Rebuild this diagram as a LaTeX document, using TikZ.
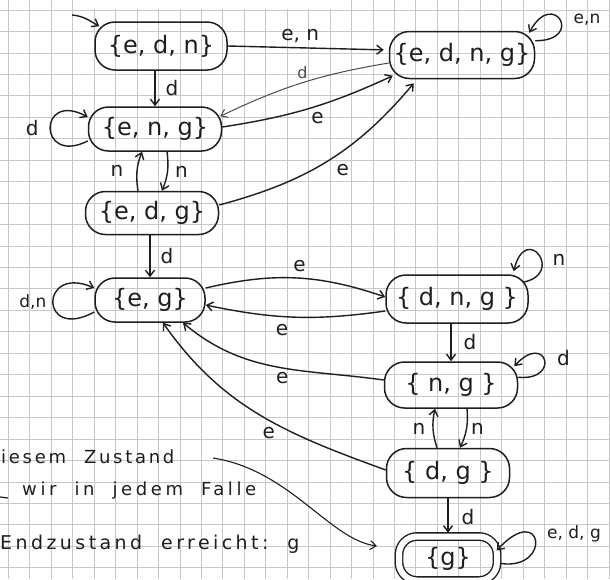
\documentclass[tikz,border=0pt]{standalone}
\usepackage{fontspec}
\setmainfont{DejaVu Sans}
\usetikzlibrary{arrows.meta}
\definecolor{ink}{RGB}{30,30,30}
\definecolor{gridline}{RGB}{200,200,200}

\begin{document}
\begin{tikzpicture}[x=1pt,y=-1pt,
  state/.style={draw=ink, line width=1.5pt, rounded corners=20pt,
    font=\fontsize{24}{26}\selectfont, text=ink, inner sep=0pt},
  final/.style={state, double=white, double distance=6pt, line width=1.4pt, rounded corners=18pt},
  edge/.style={draw=ink, line width=1.4pt, -{Straight Barb[length=6pt,width=9pt]}},
  lbl/.style={font=\fontsize{20}{22}\selectfont, text=ink, inner sep=2pt},
  note/.style={font=\fontsize{18}{20}\selectfont\addfontfeature{LetterSpace=15},
    text=ink, anchor=base west, inner sep=0pt}
]
% paper and squared grid
\useasboundingbox (0,0) rectangle (610,579);
\fill[white] (0,0) rectangle (610,579);
\foreach \i in {0,...,28}
  \draw[gridline, line width=0.8pt] ({8.3+21.45*\i},0) -- ({8.3+21.45*\i},579);
\foreach \i in {0,...,26}
  \draw[gridline, line width=0.8pt] (0,{10+21.45*\i}) -- (610,{10+21.45*\i});
\fill[white] (74,0) rectangle (350,9);

% states
\node[state, minimum width=132pt, minimum height=48pt] (edn)  at (161,46)  {\{e, d, n\}};
\node[state, minimum width=145pt, minimum height=47pt] (edng) at (462,55)  {\{e, d, n, g\}};
\node[state, minimum width=133pt, minimum height=44pt] (eng)  at (155,129) {\{e, n, g\}};
\node[state, minimum width=133pt, minimum height=43pt] (edg)  at (152,213) {\{e, d, g\}};
\node[state, minimum width=110pt, minimum height=44pt] (eg)   at (150,300) {\{e, g\}};
\node[state, minimum width=142pt, minimum height=48pt] (dng)  at (457,299) {\{ d, n, g \}};
\node[state, minimum width=133pt, minimum height=46pt] (ng)   at (451,385) {\{ n, g \}};
\node[state, minimum width=123pt, minimum height=49pt] (dg)   at (448,473) {\{ d, g \}};
\node[final, minimum width=98pt,  minimum height=44pt] (g)    at (448,558.5) {\{g\}};

% start arrow
\coordinate (init) at (72,15);
\draw[edge] (init) to[out=-5, in=150] ([shift={(5pt,-5pt)}]edn.north west);

% top part
\draw[edge, shorten >=5pt] (edn.east) -- node[lbl, pos=.45, above=2pt] {e, n}
  ([yshift=5pt]edng.west);
\draw[edge, line width=1pt, draw=ink!80] ([yshift=-8pt]edng.west) to[bend right=8]
  node[lbl, pos=.5, above=2pt, font=\fontsize{16}{17}\selectfont, text=ink!80] {d}
  ([shift={(-2pt,-10pt)}]eng.north east);
\draw[edge] ([yshift=2pt]eng.east) to[bend right=8]
  node[lbl, pos=.55, below=4pt] {e}
  ([shift={(4pt,3.5pt)}]edng.south west);
\draw[edge] ([yshift=8pt]edg.east) to[out=15, in=230]
  node[lbl, pos=.52, below right=3pt] {e}
  ([shift={(25pt,-4pt)}]edng.south west);
\draw[edge] (edn.south -| eng.north) -- node[lbl, midway, right=8pt] {d} (eng.north);
\draw[edge] ([yshift=-12pt]eng.west) .. controls +(-50pt,-25pt) and +(-50pt,27pt) .. ([yshift=12pt]eng.west)
  node[lbl, pos=.5, left=9pt] {d};
\draw[edge] ([xshift=-14pt]edg.north) to[bend left=15]
  node[lbl, midway, left=11pt] {n} ([xshift=-13pt]eng.south);
\draw[edge] ([xshift=12pt]eng.south) to[bend left=15]
  node[lbl, midway, right=5pt] {n} ([xshift=10pt]edg.north);
\draw[edge] (edg.south -| eg.north) -- node[lbl, midway, right=8pt] {d} (eg.north);
\draw[edge] ([shift={(0pt,-10pt)}]edng.north east) .. controls +(50pt,0pt) and +(24pt,45pt) .. ([shift={(-6pt,-2pt)}]edng.north east)
  node[lbl, pos=.5, right=11pt, font=\fontsize{17}{18}\selectfont] {e,n};

% {e,g} and its neighbours
\draw[edge] ([yshift=-12pt]eg.west) .. controls +(-55pt,-30pt) and +(-55pt,24pt) .. ([yshift=12pt]eg.west)
  node[lbl, pos=.5, left=4pt, font=\fontsize{17}{18}\selectfont] {d,n};
\draw[edge] ([yshift=12pt]eg.east) to[bend left=16]
  node[lbl, pos=.52, above=4pt] {e} ([yshift=2pt]dng.west);
\draw[edge] ([yshift=-12pt]dng.west) to[bend left=10]
  node[lbl, pos=.58, below=5pt] {e} ([yshift=-5pt]eg.east);
\draw[edge] ([yshift=5pt]ng.west) to[out=172, in=-40]
  node[lbl, pos=.47, below=2pt] {e} ([xshift=33pt]eg.south);
\draw[edge] ([yshift=3pt]dg.west) to[out=160, in=-55]
  node[lbl, pos=.42, below left=0pt] {e} ([xshift=13pt]eg.south);

% right column
\draw[edge] ([shift={(-6pt,-8pt)}]dng.north east) .. controls +(43pt,8pt) and +(12pt,50pt) .. ([shift={(-15pt,3pt)}]dng.north east)
  node[lbl, pos=.5, right=11pt, yshift=-5pt] {n};
\draw[edge] (dng.south -| ng.north) -- node[lbl, midway, right=10pt] {d} (ng.north);
\draw[edge] ([shift={(0pt,-16pt)}]ng.north east) .. controls +(43pt,-4pt) and +(32pt,35pt) .. ([shift={(-4pt,-5pt)}]ng.north east)
  node[lbl, pos=.5, right=10pt, yshift=2pt] {d};
\draw[edge] ([xshift=-11pt]dg.north) to[bend left=15]
  node[lbl, midway, left=5pt] {n} ([xshift=-16pt]ng.south);
\draw[edge] ([xshift=16pt]ng.south) to[bend left=15]
  node[lbl, midway, right=2pt] {n} ([xshift=12pt]dg.north);
\draw[edge, shorten >=3pt] (dg.south) -- node[lbl, midway, right=11pt] {d} (dg.south |- g.north);
\draw[edge] ([shift={(3pt,-5pt)}]g.east) .. controls +(52pt,-7pt) and +(46pt,50pt) .. ([shift={(-1pt,8pt)}]g.east)
  node[lbl, pos=.5, right=9pt, yshift=7pt, font=\fontsize{17}{18}\selectfont] {e, d, g};

% remark at the bottom left
\node[note] (l1) at (1,463) {iesem\quad Zustand};
\node[note, font=\fontsize{18}{20}\selectfont\addfontfeature{LetterSpace=20}] (l2) at (22,495) {wir\quad in\quad jedem\quad Falle};
\node[note, font=\fontsize{19}{21}\selectfont\addfontfeature{LetterSpace=18}] (l3) at (0,549) {Endzustand\quad erreicht:\quad g};
\coordinate (dashA) at (0,497);
\coordinate (dashB) at (8,498);
\draw[ink, line width=1.2pt] (dashA) -- (dashB);
\coordinate (noteA) at (213,458);
\coordinate (noteB) at (377,546);
\draw[edge, line width=1.1pt] (noteA) .. controls (290,470) and (330,540) .. (noteB);
\end{tikzpicture}
\end{document}
